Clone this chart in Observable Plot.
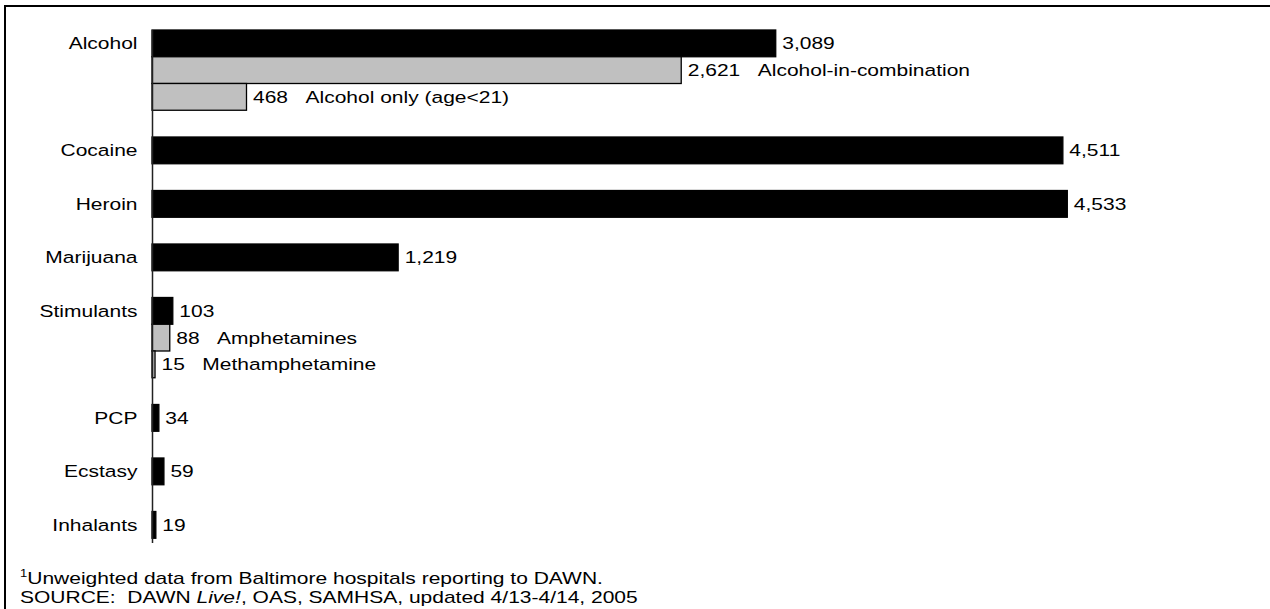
<!DOCTYPE html>
<html>
<head>
<meta charset="utf-8">
<script src="https://cdn.jsdelivr.net/npm/d3@7"></script>
<script src="https://cdn.jsdelivr.net/npm/@observablehq/plot@0.6"></script>
<style>
  html, body { margin: 0; padding: 0; background: #fff; overflow: hidden; }
  #wrap { position: relative; width: 1270px; height: 609px; overflow: hidden; font-family: "Liberation Sans", Arial, sans-serif; }
  #frame { position: absolute; left: 4px; top: 5px; width: 3000px; height: 3000px; border-top: 2px solid #000; border-left: 2px solid #000; }
  #chart { position: absolute; left: 0; top: 0; }
  .note { position: absolute; left: 20px; font-size: 17px; line-height: 19px; color: #000; white-space: nowrap; transform: scaleX(1.235); transform-origin: 0 50%; }
  .note sup { font-size: 10.5px; vertical-align: baseline; position: relative; top: -7px; }
</style>
</head>
<body>
<div id="wrap">
  <div id="frame"></div>
  <div id="chart"></div>
  <div class="note" style="top:569px"><sup>1</sup>Unweighted data from Baltimore hospitals reporting to DAWN.</div>
  <div class="note" style="top:588px">SOURCE:&nbsp; DAWN <i>Live!</i>, OAS, SAMHSA, updated 4/13-4/14, 2005</div>
</div>
<script>
// Main drug categories and their totals
const categories = ["Alcohol", "Cocaine", "Heroin", "Marijuana", "Stimulants", "PCP", "Ecstasy", "Inhalants"];
const totals = [3089, 4511, 4533, 1219, 103, 34, 59, 19];

// Sub-rows (grey bars) with their parent categories
const subParents = ["Alcohol", "Alcohol", "Stimulants", "Stimulants"];
const subNames = ["Alcohol-in-combination", "Alcohol only (age<21)", "Amphetamines", "Methamphetamine"];
const subValues = [2621, 468, 88, 15];

// Build the row table (one slot per bar, a blank slot between groups)
const rows = [];
const domain = [];
categories.forEach((c, i) => {
  rows.push({key: c, value: totals[i], main: true, label: c, text: d3.format(",")(totals[i])});
  domain.push(c);
  subParents.forEach((p, j) => {
    if (p === c) {
      rows.push({key: subNames[j], value: subValues[j], main: false, label: "",
                 text: d3.format(",")(subValues[j]) + "\u00A0\u00A0\u00A0" + subNames[j]});
      domain.push(subNames[j]);
    }
  });
  if (i < categories.length - 1) domain.push("gap" + i);
});
const mainSet = new Set(categories);

const chart = Plot.plot({
  width: 1270,
  height: 545,
  marginLeft: 152,
  marginRight: 108.4,
  marginTop: 30,
  marginBottom: 2,
  style: {fontFamily: "'Liberation Sans', Arial, sans-serif", fontSize: "17px", color: "#000", background: "transparent"},
  x: {domain: [0, 5000], axis: null},
  y: {domain, range: [30, 30 + 19 * 26.75], padding: 0, round: false, label: null},
  marks: [
    Plot.barX(rows, {
      x: "value", y: "key",
      fill: d => d.main ? "#000" : "#c0c0c0",
      stroke: "#000", strokeWidth: 1.3
    }),
    Plot.ruleX([0], {stroke: "#222", strokeWidth: 1.5}),
    Plot.axisY({
      tickSize: 0, tickPadding: 15, label: null,
      tickFormat: d => mainSet.has(d) ? d : "",
      fontSize: 17, fill: "#000"
    }),
    Plot.text(rows, {
      x: "value", y: "key", text: "text",
      textAnchor: "start", dx: 6, fill: "#000", fontSize: 17
    })
  ]
});

// Horizontally widen the lettering like the original artwork
d3.select(chart).selectAll("text").each(function () {
  const t = this.getAttribute("transform") || "";
  const xa = this.getAttribute("x"), ya = this.getAttribute("y");
  let extra = "";
  const xn = xa !== null && !isNaN(+xa), yn = ya !== null && !isNaN(+ya);
  if (xn || yn) {
    const x = xn ? +xa : 0;
    const y = yn ? +ya : 0;
    if (xn) this.removeAttribute("x");
    if (yn) this.removeAttribute("y");
    extra = ` translate(${x},${y})`;
  }
  this.setAttribute("transform", (t + extra + " scale(1.235,1)").trim());
});

document.getElementById("chart").appendChild(chart);
</script>
</body>
</html>
